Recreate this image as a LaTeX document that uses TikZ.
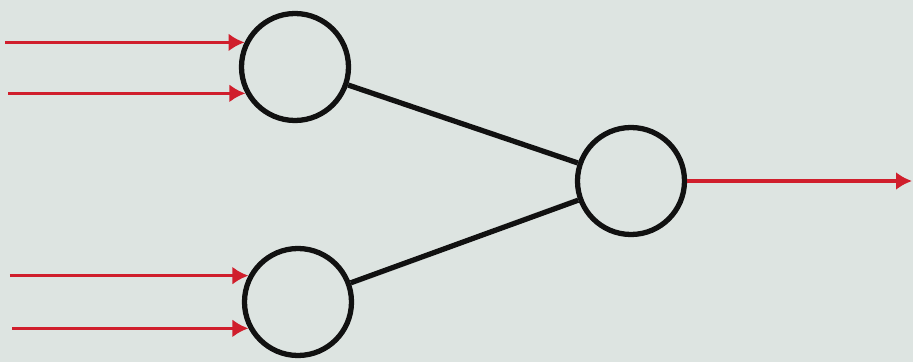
\documentclass[tikz,border=0pt]{standalone}
\usepackage{tikz}
\usetikzlibrary{arrows.meta,positioning}
\definecolor{nnRed}{HTML}{D01E2C}
\definecolor{nnBlack}{HTML}{111111}
\definecolor{nnBack}{HTML}{DDE4E1}

\begin{document}
\begin{tikzpicture}[
 neuron/.style={circle,draw=nnBlack,line width=3pt,minimum size=2.14cm,inner sep=0pt},
 arr/.style={-{Latex[length=3.2mm,width=3.6mm]},line width=2pt,draw=nnRed},
 link/.style={line width=3pt,draw=nnBlack}]
\fill[nnBack] (0,0) rectangle (18.26,7.24);
\useasboundingbox (0,0) rectangle (18.26,7.24);
\node[neuron] (top) at (5.9,5.9) {};
\node[neuron] (bottom) at (5.96,1.2) {};
\node[neuron] (out) at (12.62,3.62) {};
\coordinate (inA) at (0.1,6.4);
\coordinate (inB) at (0.16,5.44);
\coordinate (inC) at (0.2,1.7);
\coordinate (inD) at (0.24,0.72);
\coordinate (end) at (18.24,3.62);
\draw[arr] (inA |- top.154) -- (top.154);
\draw[arr] (inB |- top.208) -- (top.208);
\draw[arr] (inC |- bottom.152) -- (bottom.152);
\draw[arr] (inD |- bottom.208) -- (bottom.208);
\draw[link] (top) -- (out);
\draw[link] (bottom) -- (out);
\draw[arr] (out) -- (end);
\end{tikzpicture}
\end{document}
